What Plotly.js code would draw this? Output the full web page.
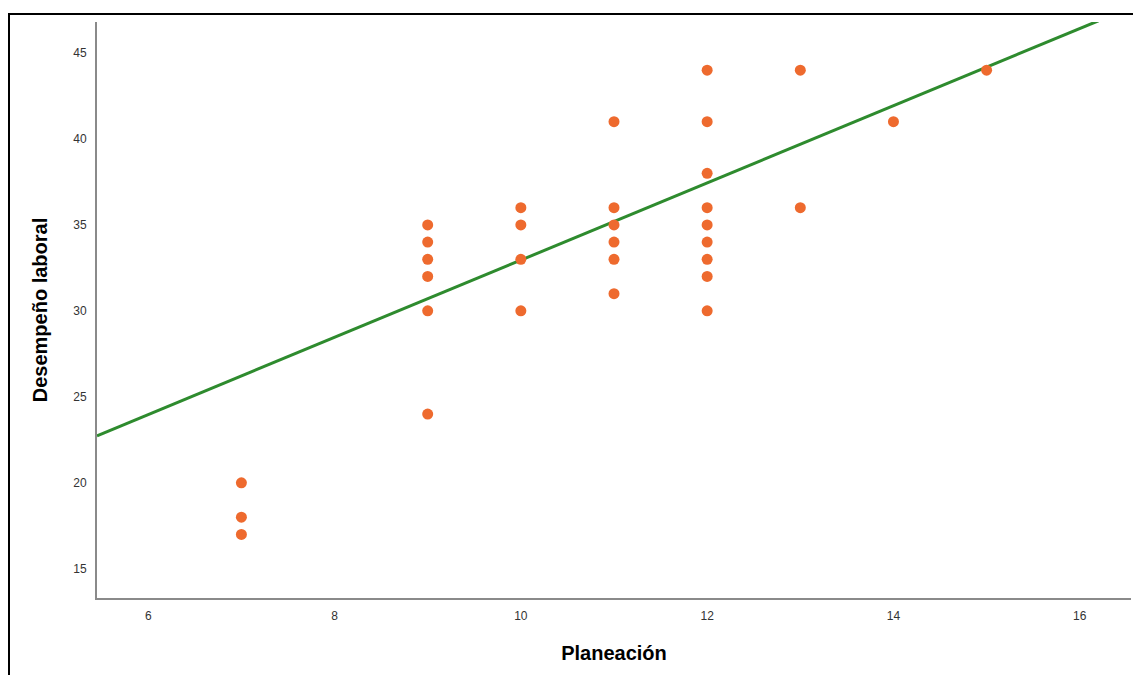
<!DOCTYPE html>
<html>
<head>
<meta charset="utf-8">
<script src="https://cdn.plot.ly/plotly-3.0.1.min.js"></script>
<style>
html,body{margin:0;padding:0;background:#fff;overflow:hidden;}
#frame{position:absolute;left:8px;top:13px;width:1200px;height:800px;border:2px solid #000;pointer-events:none;z-index:10;}
#chart{position:absolute;left:0;top:0;width:1133px;height:675px;}
</style>
</head>
<body>
<div id="chart"></div>
<div id="frame"></div>
<script>
// Planeación (x) and Desempeño laboral (y) pairs
const planeacion = [7,7,7, 9,9,9,9,9,9, 10,10,10,10, 11,11,11,11,11,11, 12,12,12,12,12,12,12,12,12, 13,13, 14, 15];
const desempeno  = [20,18,17, 35,34,33,32,30,24, 36,35,33,30, 41,36,35,34,33,31, 44,41,38,36,35,34,33,32,30, 44,36, 41, 44];
// Fit line: y = intercept + slope * x
const fitX = [5.45, 16.2];
const fitIntercept = 10.5;
const fitSlope = 2.245;
const fitY = fitX.map(x => fitIntercept + fitSlope * x);
const xTicks = [6, 8, 10, 12, 14, 16];
const yTicks = [15, 20, 25, 30, 35, 40, 45];

const traces = [
  {x: fitX, y: fitY, mode: 'lines', type: 'scatter',
   line: {color: '#2E8B2E', width: 3}, hoverinfo: 'skip'},
  {x: planeacion, y: desempeno, mode: 'markers', type: 'scatter',
   marker: {color: '#EE6A2E', size: 11}}
];

const layout = {
  width: 1133, height: 675,
  margin: {l: 97, r: 2, t: 22, b: 77},
  paper_bgcolor: '#fff', plot_bgcolor: '#fff',
  showlegend: false,
  font: {family: 'Liberation Sans, Arial, sans-serif', color: '#222'},
  xaxis: {
    range: [5.45, 16.55], tickvals: xTicks, ticks: '', showgrid: false, zeroline: false,
    showline: true, linecolor: '#8a8a8a', linewidth: 2,
    tickfont: {size: 12, color: '#333'}, ticklabelstandoff: 6,
    title: {text: '<b>Planeación</b>', font: {size: 20, color: '#000'}, standoff: 24}
  },
  yaxis: {
    range: [13.3, 46.8], tickvals: yTicks, ticks: '', showgrid: false, zeroline: false,
    showline: true, linecolor: '#8a8a8a', linewidth: 2,
    tickfont: {size: 12, color: '#333'}, ticklabelstandoff: 6,
    title: {text: '<b>Desempeño laboral</b>', font: {size: 20, color: '#000'}, standoff: 20}
  }
};

Plotly.newPlot('chart', traces, layout, {displayModeBar: false, staticPlot: true});
</script>
</body>
</html>
